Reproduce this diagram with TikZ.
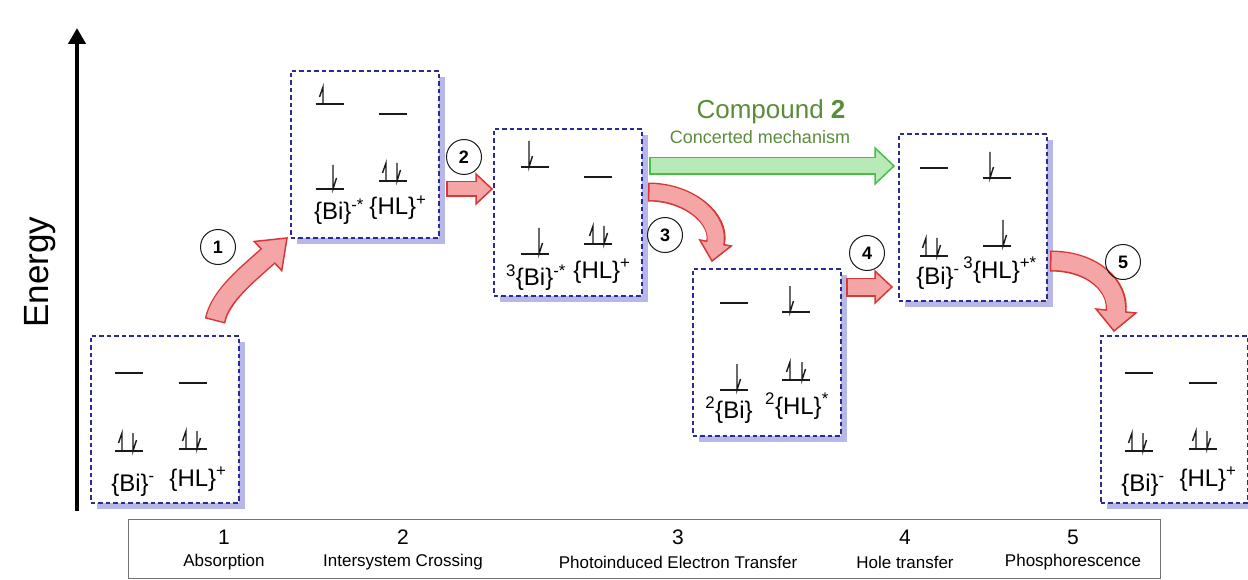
\documentclass[tikz,border=0pt]{standalone}
\usepackage{fontspec}
\setmainfont{Liberation Sans}
\usetikzlibrary{calc,shadows,arrows.meta}
\definecolor{boxblue}{HTML}{2B2B94}
\definecolor{shadowblue}{HTML}{B8B8E8}
\definecolor{arred}{HTML}{D93636}
\definecolor{arpink}{HTML}{F4A6A6}
\definecolor{argreen}{HTML}{47BF47}
\definecolor{arlgreen}{HTML}{B7EAB7}
\definecolor{txtgreen}{HTML}{5A8C3A}
\definecolor{inkk}{HTML}{1A1A1A}
% #1 edge colour, #2 fill colour, #3 path, #4 base, #5 tip, #6 outer width, #7 inner width, #8 half head width
\newcommand\fatarr[8]{%
  \draw[#1, line width=#6pt, line cap=butt] #3;
  \filldraw[fill=#2, draw=#1, line width=1.5pt, line join=miter]
    ($(#4)!#8pt!90:(#5)$) -- (#5) -- ($(#4)!#8pt!-90:(#5)$) -- cycle;
  \draw[#2, line width=#7pt, line cap=butt, shorten <=1.5pt, shorten >=-2pt] #3;
}
\newcommand\lev[2]{\draw[levline] (#1-14,#2) -- (#1+14,#2);}
\newcommand\eup[3]{\draw[spin] (#1,#2) -- (#1,#2-#3) -- (#1-3.5,#2-#3+10);}
\newcommand\edn[3]{\draw[spin] (#1,#2-#3) -- (#1,#2) -- (#1+3.5,#2-11);}
\begin{document}
\begin{tikzpicture}[x=1pt,y=-1pt,
  ebox/.style={draw=boxblue, line width=1.6pt, dash pattern=on 4.5pt off 3pt, fill=white,
    drop shadow={shadow xshift=6pt, shadow yshift=-6pt, fill=shadowblue, opacity=1},
    inner sep=0pt, anchor=north west, minimum width=148pt, minimum height=167pt},
  levline/.style={draw=inkk, line width=1.5pt},
  spin/.style={draw=inkk, line width=1.4pt, line join=miter},
  lbl/.style={font=\fontsize{24}{28}\selectfont, anchor=base, inner sep=0pt},
  circ/.style={circle, draw=inkk, line width=1pt, minimum size=35pt, inner sep=0pt,
    font=\fontsize{18}{20}\selectfont\bfseries},
  legnum/.style={font=\fontsize{21}{24}\selectfont, inner sep=0pt},
  legtxt/.style={font=\fontsize{17}{20}\selectfont, inner sep=0pt}]
\useasboundingbox (0,0) rectangle (1248,580);
\fill[white] (0,0) rectangle (1248,580);

% energy axis
\coordinate (ax0) at (77,511);
\coordinate (ax1) at (77,28);
\draw[line width=4pt, -{Triangle[length=16pt,width=17pt]}] (ax0) -- (ax1);
\node[rotate=90, font=\fontsize{35}{40}\selectfont] (en) at (40,272) {Energy};

% boxes
\node[ebox] (b1) at (90,335) {};
\node[ebox] (b2) at (290,70) {};
\node[ebox] (b3) at (493,128) {};
\node[ebox] (b4) at (692,268) {};
\node[ebox] (b5) at (898,133) {};
\node[ebox, minimum width=147pt] (b6) at (1100,335) {};

% box 1
\lev{129}{373} \lev{192.5}{383} \lev{129}{451} \lev{192.5}{449}
\eup{122}{451}{18} \edn{133}{451}{18} \eup{186}{449}{18} \edn{197}{449}{18}
\node[lbl] (l1a) at (133,491) {\{Bi\}\textsuperscript{-}};
\node[lbl] (l1b) at (198,486) {\{HL\}\textsuperscript{+}};

% box 2
\lev{329.5}{104} \eup{323}{104}{17}
\lev{392.5}{114}
\lev{329.5}{189} \edn{333}{189}{24}
\lev{392.5}{181} \eup{386}{181}{18} \edn{397}{181}{18}
\node[lbl] (l2a) at (339,220) {\{Bi\}\textsuperscript{-*}};
\node[lbl] (l2b) at (398,215) {\{HL\}\textsuperscript{+}};

% box 3
\lev{534.5}{167} \edn{529}{167}{26}
\lev{597.5}{177}
\lev{534.5}{254} \edn{539}{254}{26}
\lev{597.5}{244} \eup{593}{244}{18} \edn{604}{244}{18}
\node[lbl] (l3a) at (536,286) {\textsuperscript{3}\{Bi\}\textsuperscript{-*}};
\node[lbl] (l3b) at (602,278) {\{HL\}\textsuperscript{+}};

% box 4
\lev{733.5}{303}
\lev{796}{312} \edn{790}{312}{26}
\lev{733.5}{390} \edn{737}{390}{26}
\lev{796}{380} \eup{790}{380}{18} \edn{802}{380}{18}
\node[lbl] (l4a) at (729,418) {\textsuperscript{2}\{Bi\}};
\node[lbl] (l4b) at (797,414) {\textsuperscript{2}\{HL\}\textsuperscript{*}};

% box 5
\lev{933.5}{168}
\lev{996.5}{178} \edn{990}{178}{26}
\lev{933.5}{256} \eup{926}{256}{18} \edn{937}{256}{18}
\lev{996.5}{246} \edn{1003}{246}{26}
\node[lbl] (l5a) at (938,284) {\{Bi\}\textsuperscript{-}};
\node[lbl] (l5b) at (1000,278) {\textsuperscript{3}\{HL\}\textsuperscript{+*}};

% box 6
\lev{1139}{373} \lev{1202.5}{383} \lev{1139}{451} \lev{1202.5}{449}
\eup{1132}{451}{18} \edn{1143}{451}{18} \eup{1196}{449}{18} \edn{1207}{449}{18}
\node[lbl] (l6a) at (1143,491) {\{Bi\}\textsuperscript{-}};
\node[lbl] (l6b) at (1208,486) {\{HL\}\textsuperscript{+}};

% arrows
\coordinate (a1s) at (215,321); \coordinate (a1b) at (268,256); \coordinate (a1t) at (287,238);
\fatarr{arred}{arpink}{(a1s) .. controls (220,296) and (248,274) .. (a1b)}{a1b}{a1t}{21}{18}{20}

\coordinate (a2s) at (446,189); \coordinate (a2b) at (476,189); \coordinate (a2t) at (492,189);
\fatarr{arred}{arpink}{(a2s) -- (a2b)}{a2b}{a2t}{16}{13}{15}

\coordinate (a3s) at (648,192); \coordinate (a3b) at (715.5,243); \coordinate (a3t) at (712,261);
\fatarr{arred}{arpink}{(a3s) .. controls (690,192) and (721,220) .. (a3b)}{a3b}{a3t}{19}{16}{16}

\coordinate (a4s) at (846,287); \coordinate (a4b) at (875,287); \coordinate (a4t) at (892,287);
\fatarr{arred}{arpink}{(a4s) -- (a4b)}{a4b}{a4t}{19}{16}{16}

\coordinate (a5s) at (1050,261); \coordinate (a5b) at (1116,311); \coordinate (a5t) at (1114,331);
\fatarr{arred}{arpink}{(a5s) .. controls (1094,261) and (1119,287) .. (a5b)}{a5b}{a5t}{21}{18}{20}

\coordinate (gs) at (649,166); \coordinate (gb) at (875,166); \coordinate (gt) at (894,166);
\fatarr{argreen}{arlgreen}{(gs) -- (gb)}{gb}{gt}{18}{15}{18}

\node[font=\fontsize{26}{30}\selectfont, text=txtgreen] (cmp) at (771,112) {Compound \textbf{2}};
\node[font=\fontsize{18}{21}\selectfont, text=txtgreen] (cmech) at (760,137) {Concerted mechanism};

% step circles
\node[circ] (c1) at (218,247) {1};
\node[circ] (c2) at (464,157) {2};
\node[circ] (c3) at (665,235) {3};
\node[circ] (c4) at (867,253) {4};
\node[circ] (c5) at (1123,262) {5};

% legend
\node[draw=black!55, line width=0.9pt, fill=white, anchor=north west, inner sep=0pt,
  minimum width=1032pt, minimum height=59pt] (leg) at (128,519) {};
\node[legnum] (n1) at (224,537) {1};
\node[legtxt] (t1) at (224,562) {Absorption};
\node[legnum] (n2) at (403,537) {2};
\node[legtxt] (t2) at (403,562) {Intersystem Crossing};
\node[legnum] (n3) at (678,537) {3};
\node[legtxt] (t3) at (678,562) {Photoinduced Electron Transfer};
\node[legnum] (n4) at (905,537) {4};
\node[legtxt] (t4) at (905,562) {Hole transfer};
\node[legnum] (n5) at (1073,537) {5};
\node[legtxt] (t5) at (1073,562) {Phosphorescence};
\end{tikzpicture}
\end{document}
